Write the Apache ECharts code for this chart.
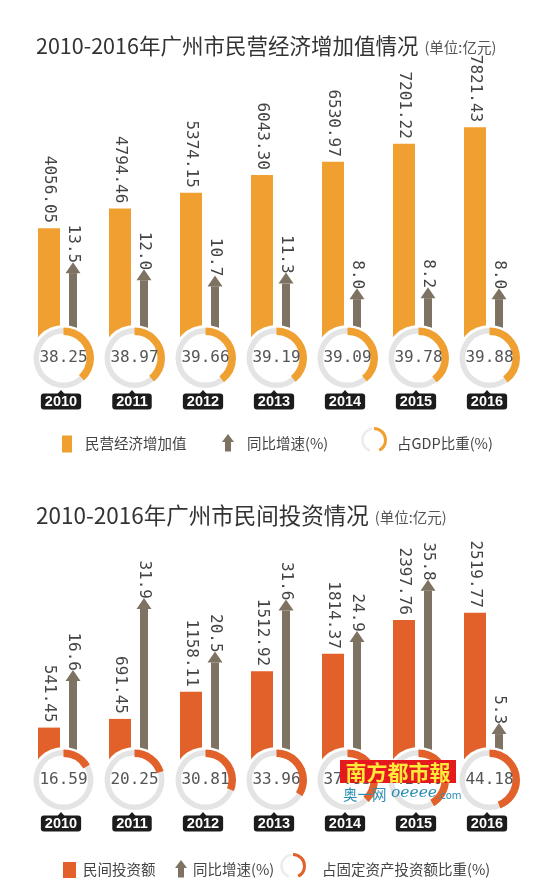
<!DOCTYPE html>
<html>
<head>
<meta charset="utf-8">
<script src="https://cdn.jsdelivr.net/npm/echarts@6/dist/echarts.min.js"></script>
<style>
html,body{margin:0;padding:0;background:#fff;}
#chart{width:540px;height:893px;}
</style>
</head>
<body>
<div id="chart"></div>
<script>
// ---- data ----
const years = ['2010', '2011', '2012', '2013', '2014', '2015', '2016'];
// chart 1: private economy value added (100 million yuan)
const privateValueAdded = [4056.05, 4794.46, 5374.15, 6043.30, 6530.97, 7201.22, 7821.43];
const valueAddedGrowth = [13.5, 12.0, 10.7, 11.3, 8.0, 8.2, 8.0];
const gdpShare = [38.25, 38.97, 39.66, 39.19, 39.09, 39.78, 39.88];
// chart 2: private investment (100 million yuan)
const privateInvestment = [541.45, 691.45, 1158.11, 1512.92, 1814.37, 2397.76, 2519.77];
const investmentGrowth = [16.6, 31.9, 20.5, 31.6, 24.9, 35.8, 5.3];
const investmentShare = [16.59, 20.25, 30.81, 33.96, 37.83, 41.40, 44.18];

const title1 = '2010-2016年广州市民营经济增加值情况';
const title2 = '2010-2016年广州市民间投资情况';
const unitText = '(单位:亿元)';
const legend1 = ['民营经济增加值', '同比增速(%)', '占GDP比重(%)'];
const legend2 = ['民间投资额', '同比增速(%)', '占固定资产投资额比重(%)'];

// ---- styles ----
const ORANGE = '#F0A030';
const RED = '#E2612B';
const ARROW = '#7E7262';
const RING = '#E4E4E4';
const MONO = '"DejaVu Sans Mono", monospace';
const CJK = '"Noto Sans CJK SC", sans-serif';

const chart = echarts.init(document.getElementById('chart'), null, {renderer: 'canvas'});

function xAxisFor(gi) {
  return {
    type: 'category', gridIndex: gi, data: years,
    axisLine: {show: false}, axisTick: {show: false},
    axisLabel: {
      interval: 0, margin: 57,
      formatter: v => '{s| }{t|' + v + '}',
      rich: {
        s: {width: 7, fontSize: 10},
        t: {backgroundColor: '#1c1c1c', color: '#fff', fontWeight: 'bold', fontSize: 14.5,
            fontFamily: '"Liberation Sans", Arial, sans-serif', borderRadius: 3,
            padding: [1, 4, 0, 4], lineHeight: 15}
      }
    }
  };
}

function ringRenderer(color) {
  return function (params, api) {
    const i = api.value(0), pct = api.value(1);
    const p = api.coord([i, 0]);
    const cx = p[0] + 6, cy = p[1] + 21;
    const tx = p[0] + 3.5, ty = p[1] + 57;
    return {
      type: 'group',
      children: [
        {type: 'circle', shape: {cx: cx, cy: cy, r: 33}, style: {fill: '#fff'}},
        {type: 'sector', shape: {cx: cx, cy: cy, r0: 24.5, r: 30, startAngle: 0, endAngle: Math.PI * 2}, style: {fill: RING}},
        {type: 'sector', shape: {cx: cx, cy: cy, r0: 23, r: 30.5, startAngle: -Math.PI / 2,
          endAngle: -Math.PI / 2 + Math.PI * 2 * pct / 100, clockwise: true}, style: {fill: color}},
        {type: 'text', style: {text: pct.toFixed(2), x: cx, y: cy, align: 'center', verticalAlign: 'middle',
          fontSize: 16, fontFamily: MONO, fill: '#555'}},
        {type: 'polygon', shape: {points: [[tx - 4, ty + 0.5], [tx + 4, ty + 0.5], [tx, ty - 4]]}, style: {fill: '#1c1c1c'}}
      ]
    };
  };
}

function seriesFor(gi, barVals, growthVals, shareVals, color) {
  const yb = gi * 2, ya = gi * 2 + 1;
  return [
    {
      type: 'bar', xAxisIndex: gi, yAxisIndex: yb, data: barVals, barWidth: 22, barGap: '40.9%',
      itemStyle: {color: color}, z: 2, silent: true,
      label: {show: true, position: 'top', distance: 5, rotate: -90, align: 'right', verticalAlign: 'middle',
        fontSize: 16, fontFamily: MONO, color: '#444', formatter: p => p.value.toFixed(2)}
    },
    {
      type: 'bar', xAxisIndex: gi, yAxisIndex: ya, data: growthVals, barWidth: 8, barGap: '40.9%',
      itemStyle: {color: ARROW}, z: 2, silent: true
    },
    {
      type: 'scatter', xAxisIndex: gi, yAxisIndex: ya, data: growthVals, symbol: 'triangle',
      symbolSize: [15, 11], symbolOffset: [15.5, -5.5], itemStyle: {color: ARROW, opacity: 1}, z: 3, silent: true, clip: false,
      label: {show: true, position: 'top', distance: -1, rotate: -90, align: 'right', verticalAlign: 'middle',
        fontSize: 16, fontFamily: MONO, color: '#444', formatter: p => p.value.toFixed(1)}
    },
    {
      type: 'custom', xAxisIndex: gi, yAxisIndex: yb, data: shareVals.map((v, i) => [i, v]),
      encode: {x: 0, y: 1}, renderItem: ringRenderer(color), z: 5, silent: true, clip: false
    }
  ];
}

function legendGraphics(y, items, color, geo) {
  const g = [];
  const t = (text, x) => ({type: 'text', x: x, y: y, style: {text: text, fontSize: 14.5, fontFamily: CJK, fill: '#444', verticalAlign: 'middle'}});
  g.push({type: 'rect', shape: {x: geo.rx, y: y - geo.rh / 2 + 1, width: geo.rw, height: geo.rh}, style: {fill: color}});
  g.push(t(items[0], geo.t0));
  const ax = geo.ax;
  g.push({type: 'polygon', shape: {points: [[ax - 6, y - 1], [ax + 6, y - 1], [ax, y - 9]]}, style: {fill: ARROW}});
  g.push({type: 'rect', shape: {x: ax - 3, y: y - 1.5, width: 6, height: 10}, style: {fill: ARROW}});
  g.push(t(items[1], geo.t1));
  g.push({type: 'arc', shape: {cx: geo.cx, cy: geo.cy, r: 11.5, startAngle: Math.PI * 0.62, endAngle: Math.PI * 1.45}, style: {stroke: '#ececec', lineWidth: 2.5, fill: 'none'}});
  g.push({type: 'arc', shape: {cx: geo.cx, cy: geo.cy, r: 11.5, startAngle: -Math.PI / 2, endAngle: Math.PI * 0.35}, style: {stroke: color, lineWidth: 3, fill: 'none'}});
  g.push(t(items[2], geo.t2));
  return g;
}

const option = {
  backgroundColor: '#fff',
  animation: false,
  textStyle: {fontFamily: CJK},
  title: [
    {left: 31, top: 30, text: '{a|' + title1 + '} {b|' + unitText + '}',
      textStyle: {fontWeight: 'normal', rich: {a: {fontSize: 21.5, color: '#333', fontWeight: 'normal', fontFamily: CJK}, b: {fontSize: 14.5, color: '#555', fontWeight: 'normal', fontFamily: CJK, padding: [4, 0, 0, 2]}}}},
    {left: 31, top: 499, text: '{a|' + title2 + '} {b|' + unitText + '}',
      textStyle: {fontWeight: 'normal', rich: {a: {fontSize: 22.5, color: '#333', fontWeight: 'normal', fontFamily: CJK}, b: {fontSize: 14.5, color: '#555', fontWeight: 'normal', fontFamily: CJK, padding: [4, 0, 0, 2]}}}}
  ],
  grid: [
    {left: 22, right: 21, top: 122.4, height: 214.6},
    {left: 22, right: 21, top: 527, height: 232}
  ],
  xAxis: [xAxisFor(0), xAxisFor(1)],
  yAxis: [
    {type: 'value', gridIndex: 0, min: 0, max: 8000, show: false},
    {type: 'value', gridIndex: 0, min: 0, max: 45.37, show: false},
    {type: 'value', gridIndex: 1, min: 0, max: 4000, show: false},
    {type: 'value', gridIndex: 1, min: 0, max: 49.34, show: false}
  ],
  series: [].concat(
    seriesFor(0, privateValueAdded, valueAddedGrowth, gdpShare, ORANGE),
    seriesFor(1, privateInvestment, investmentGrowth, investmentShare, RED)
  ),
  graphic: [].concat(
    legendGraphics(443, legend1, ORANGE, {rx: 62, rw: 10, rh: 17, t0: 85, ax: 228, t1: 247, cx: 374, cy: 440, t2: 397}),
    legendGraphics(869, legend2, RED, {rx: 63, rw: 13, rh: 16, t0: 83, ax: 181, t1: 193, cx: 293, cy: 866, t2: 322}),
    [
      {type: 'rect', z: 100, shape: {x: 340, y: 760, width: 116, height: 23}, style: {fill: '#E51A1E'}},
      {type: 'text', z: 101, x: 398, y: 772, style: {text: '南方都市報', fontSize: 21, fontWeight: 'bold', fontFamily: '"Noto Sans CJK TC", sans-serif', fill: '#FFE93A', align: 'center', verticalAlign: 'middle'}},
      {type: 'text', z: 101, x: 343, y: 794, style: {text: '奥一网', fontSize: 14.5, fontFamily: CJK, fill: '#2B8DB3', verticalAlign: 'middle'}},
      {type: 'text', z: 101, x: 391, y: 793, style: {text: 'oeeee', fontSize: 15.5, fontStyle: 'italic', fontFamily: '"DejaVu Serif", serif', fill: '#2B8DB3', verticalAlign: 'middle'}},
      {type: 'text', z: 101, x: 437, y: 796, style: {text: '.com', fontSize: 10, fontFamily: '"DejaVu Sans", sans-serif', fill: '#2B8DB3', verticalAlign: 'middle'}}
    ]
  )
};
chart.setOption(option);
</script>
</body>
</html>
